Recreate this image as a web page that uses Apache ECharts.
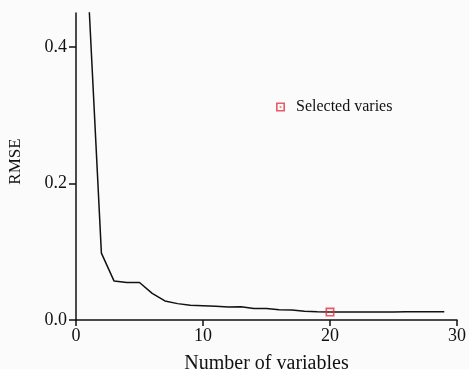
<!DOCTYPE html>
<html>
<head>
<meta charset="utf-8">
<script src="https://cdn.jsdelivr.net/npm/echarts@6/dist/echarts.min.js"></script>
<style>
  html, body { margin: 0; padding: 0; background: #fbfbfb; }
  #main { width: 469px; height: 369px; }
</style>
</head>
<body>
<div id="main"></div>
<script>
// number of variables vs RMSE
var nVars = [1, 2, 3, 4, 5, 6, 7, 8, 9, 10, 11, 12, 13, 14, 15, 16, 17, 18, 19, 20, 21, 22, 23, 24, 25, 26, 27, 28, 29];
var rmse = [0.47, 0.098, 0.057, 0.055, 0.055, 0.039, 0.028, 0.024, 0.0215, 0.021, 0.020, 0.019, 0.0195, 0.017, 0.0168,
            0.015, 0.0147, 0.013, 0.012, 0.0117, 0.0117, 0.0117, 0.0117, 0.0117, 0.0117, 0.012, 0.012, 0.012, 0.012];
var selected = [[20, 0.0117]];
var xTicks = [0, 10, 20, 30];
var yTicks = [0, 0.2, 0.4];

var serif = 'Liberation Serif';
var markIcon = 'path://M0,0H10V10H0Z M1.8,1.8V8.2H8.2V1.8Z M4.1,4.1H5.9V5.9H4.1Z';

var pts = [];
for (var i = 0; i < nVars.length; i++) {
    pts.push([nVars[i], rmse[i]]);
}

var myChart = echarts.init(document.getElementById('main'));
var option = {
    backgroundColor: '#fbfbfb',
    animation: false,
    grid: { left: 76, right: 12, top: 13, bottom: 49, outerBoundsMode: 'none', containLabel: false },
    legend: {
        data: [{ name: 'Selected varies', icon: markIcon }],
        left: 276, top: 99, padding: 0,
        itemWidth: 9, itemHeight: 9,
        textStyle: { fontFamily: serif, fontSize: 16, color: '#111', padding: [0, 0, 0, 6] }
    },
    xAxis: {
        type: 'value',
        min: 0, max: 30, interval: 10,
        name: 'Number of variables',
        nameLocation: 'middle',
        nameGap: 34,
        nameTextStyle: { fontFamily: serif, fontSize: 20, color: '#111' },
        axisLine: { lineStyle: { color: '#111', width: 1.5 } },
        axisTick: { customValues: xTicks, length: 6, lineStyle: { color: '#111', width: 1.5 } },
        axisLabel: { customValues: xTicks, fontFamily: serif, fontSize: 18, color: '#111', margin: 7 },
        splitLine: { show: false }
    },
    yAxis: {
        type: 'value',
        min: 0, max: 0.45,
        name: 'RMSE',
        nameLocation: 'middle',
        nameGap: 52,
        nameTextStyle: { fontFamily: serif, fontSize: 17, color: '#111', padding: [0, 0, 0, 10] },
        axisLine: { show: true, lineStyle: { color: '#111', width: 1.5 } },
        axisTick: { show: true, customValues: yTicks, length: 7, lineStyle: { color: '#111', width: 1.5 } },
        axisLabel: {
            customValues: yTicks, fontFamily: serif, fontSize: 18, color: '#111', margin: 9,
            formatter: function (v) { return v.toFixed(1); }
        },
        splitLine: { show: false }
    },
    series: [
        {
            type: 'line',
            data: pts,
            showSymbol: false,
            clip: true,
            lineStyle: { color: '#111', width: 1.5 },
            z: 2
        },
        {
            name: 'Selected varies',
            type: 'scatter',
            data: selected,
            symbol: markIcon,
            symbolSize: 9,
            itemStyle: { color: '#e5323f' },
            z: 3
        }
    ]
};
myChart.setOption(option);
</script>
</body>
</html>
